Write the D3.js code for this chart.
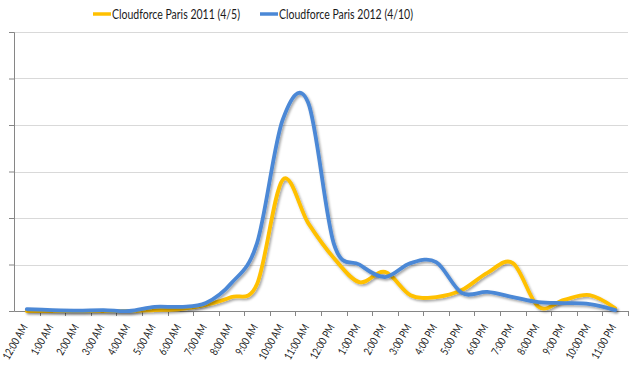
<!DOCTYPE html>
<html><head><meta charset="utf-8">
<script src="https://cdn.jsdelivr.net/npm/d3@7"></script>
<style>html,body{margin:0;padding:0;background:#fff}</style>
</head><body>
<svg id="c" width="630" height="371"></svg>
<script>
const categories = ["12:00 AM","1:00 AM","2:00 AM","3:00 AM","4:00 AM","5:00 AM","6:00 AM","7:00 AM","8:00 AM","9:00 AM","10:00 AM","11:00 AM","12:00 PM","1:00 PM","2:00 PM","3:00 PM","4:00 PM","5:00 PM","6:00 PM","7:00 PM","8:00 PM","9:00 PM","10:00 PM","11:00 PM"];
const series2011 = [0,0,0,0,0,0.2,0.4,1.3,3.0,5.8,28.2,18.9,11.4,6.2,8.4,3.4,3.0,4.5,8.2,10.3,0.9,2.4,3.4,0.6];
const series2012 = [0.4,0.2,0.1,0.2,0,0.9,0.9,1.7,6.0,14.6,41.1,44.8,14.5,10.0,7.3,10.3,10.5,3.9,4.1,3.0,1.9,1.7,1.5,0.2];
const yTicks = [0,10,20,30,40,50,60];
const seriesNames = ["Cloudforce Paris 2011 (4/5)","Cloudforce Paris 2012 (4/10)"];
const colors = ["#FFC000","#4B88D6"];

(function(){
const svg = d3.select("#c");
const mL = 14, mR = 628, mT = 32, mB = 311;
const x = d3.scaleBand().domain(categories).range([mL, mR]);
const y = d3.scaleLinear().domain([0,60]).range([mB, mT]);

const defs = svg.append("defs");
const f = defs.append("filter").attr("id","sh").attr("x","-10%").attr("y","-10%").attr("width","120%").attr("height","120%");
f.append("feDropShadow").attr("dx",1.5).attr("dy",1.8).attr("stdDeviation",1.2).attr("flood-color","#000").attr("flood-opacity",0.35);

svg.append("g").selectAll("line").data(yTicks.slice(1)).join("line")
  .attr("x1", mL).attr("x2", mR).attr("y1", d=>Math.round(y(d))+0.5).attr("y2", d=>Math.round(y(d))+0.5)
  .attr("stroke","#d9d9d9").attr("stroke-width",1);

const yAxis = svg.append("g").attr("transform",`translate(${mL},0)`)
  .call(d3.axisLeft(y).tickValues(yTicks).tickSize(5).tickFormat(""));
yAxis.select(".domain").attr("stroke","#868686");
yAxis.selectAll(".tick line").attr("stroke","#868686");

const xAxis = svg.append("g").attr("transform",`translate(0,${mB})`)
  .call(d3.axisBottom(x).tickSize(0).tickFormat(""));
xAxis.select(".domain").attr("stroke","#868686");
svg.append("g").selectAll("line").data(categories).join("line")
  .attr("x1", d=>Math.round(x(d)+x.bandwidth())+0.5).attr("x2", d=>Math.round(x(d)+x.bandwidth())+0.5)
  .attr("y1", mB).attr("y2", mB+5).attr("stroke","#868686");
svg.append("g").selectAll("text").data(categories).join("text")
  .attr("transform", d=>`translate(${x(d)+x.bandwidth()/2-2},${mB+14}) rotate(-60) scale(0.8,1)`)
  .attr("text-anchor","end").attr("dy","0.35em")
  .attr("font-family","Lato, 'Liberation Sans', sans-serif").attr("font-size","11px").attr("fill","#1a1a1a")
  .text(d=>d);

const line = d3.line().x((d,i)=>x(categories[i])+x.bandwidth()/2).y(d=>y(d)).curve(d3.curveCardinal.tension(0));
[series2011, series2012].forEach((s,k)=>{
  svg.append("path").datum(s).attr("d", line).attr("fill","none")
    .attr("stroke", colors[k]).attr("stroke-width",3.8).attr("stroke-linejoin","round").attr("stroke-linecap","round")
    .attr("filter","url(#sh)");
});

const legend = svg.append("g").attr("font-family","Lato, 'Liberation Sans', sans-serif").attr("font-size","13px");
const lx = [93, 260];
const tl = [128, 134];
seriesNames.forEach((n,k)=>{
  legend.append("line").attr("x1",lx[k]).attr("x2",lx[k]+18).attr("y1",14).attr("y2",14)
    .attr("stroke",colors[k]).attr("stroke-width",3.5);
  legend.append("text").attr("x",lx[k]+19).attr("y",14).attr("dy","0.35em").attr("fill","#1a1a1a")
    .attr("textLength", tl[k]).attr("lengthAdjust","spacingAndGlyphs").text(n);
});
})();
</script>
</body></html>
